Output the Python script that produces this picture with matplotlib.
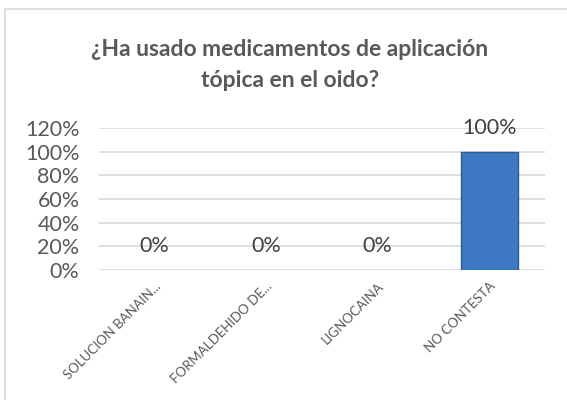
import matplotlib.pyplot as plt
from matplotlib.patches import Rectangle

categories = ["SOLUCION BANAIN...", "FORMALDEHIDO DE...", "LIGNOCAINA", "NO CONTESTA"]
values = [0, 0, 0, 100]
yticks = [0, 20, 40, 60, 80, 100, 120]

plt.rcParams["font.family"] = ["Lato", "DejaVu Sans"]
grey = "#595959"

fig = plt.figure(figsize=(5.67, 4), dpi=100)
fig.patches.append(Rectangle((5 / 567, -0.1), 1.1, 1.1 - 9 / 400, transform=fig.transFigure,
                             fill=False, edgecolor="#d9d9d9", linewidth=1.2))

ax = fig.add_axes([99 / 567, 1 - 270 / 400, 446 / 567, 142 / 400])
x = range(len(categories))
ax.bar(x, values, width=0.51, color="#3d78c2", edgecolor="#2b5b99",
       linewidth=[1 if v else 0 for v in values], zorder=3)

for xi, v in zip(x, values):
    ax.annotate(f"{v}%", (xi, v), xytext=(0, 17), textcoords="offset points",
                ha="center", va="center", fontsize=15.5, color="#404040")

ax.set_xlim(-0.5, len(categories) - 0.5)
ax.set_ylim(0, 120)
ax.set_yticks(yticks)
ax.set_yticklabels([f"{t}%" for t in yticks], fontsize=15.5, color=grey)
ax.set_xticks(list(x))
ax.set_xticklabels(categories, rotation=45, ha="right", rotation_mode="anchor",
                   fontsize=9.5, color=grey)
ax.tick_params(length=0, axis="both")
ax.tick_params(axis="x", pad=7)
ax.tick_params(axis="y", pad=14)
ax.grid(axis="y", color="#d9d9d9", linewidth=1.2, zorder=0)
for s in ax.spines.values():
    s.set_visible(False)

fig.text(290 / 567, 1 - 65 / 400, "¿Ha usado medicamentos de aplicación\ntópica en el oido?",
         ha="center", va="center", fontsize=16.5, fontweight="bold", color=grey, linespacing=1.6)

fig.savefig("out.png")
